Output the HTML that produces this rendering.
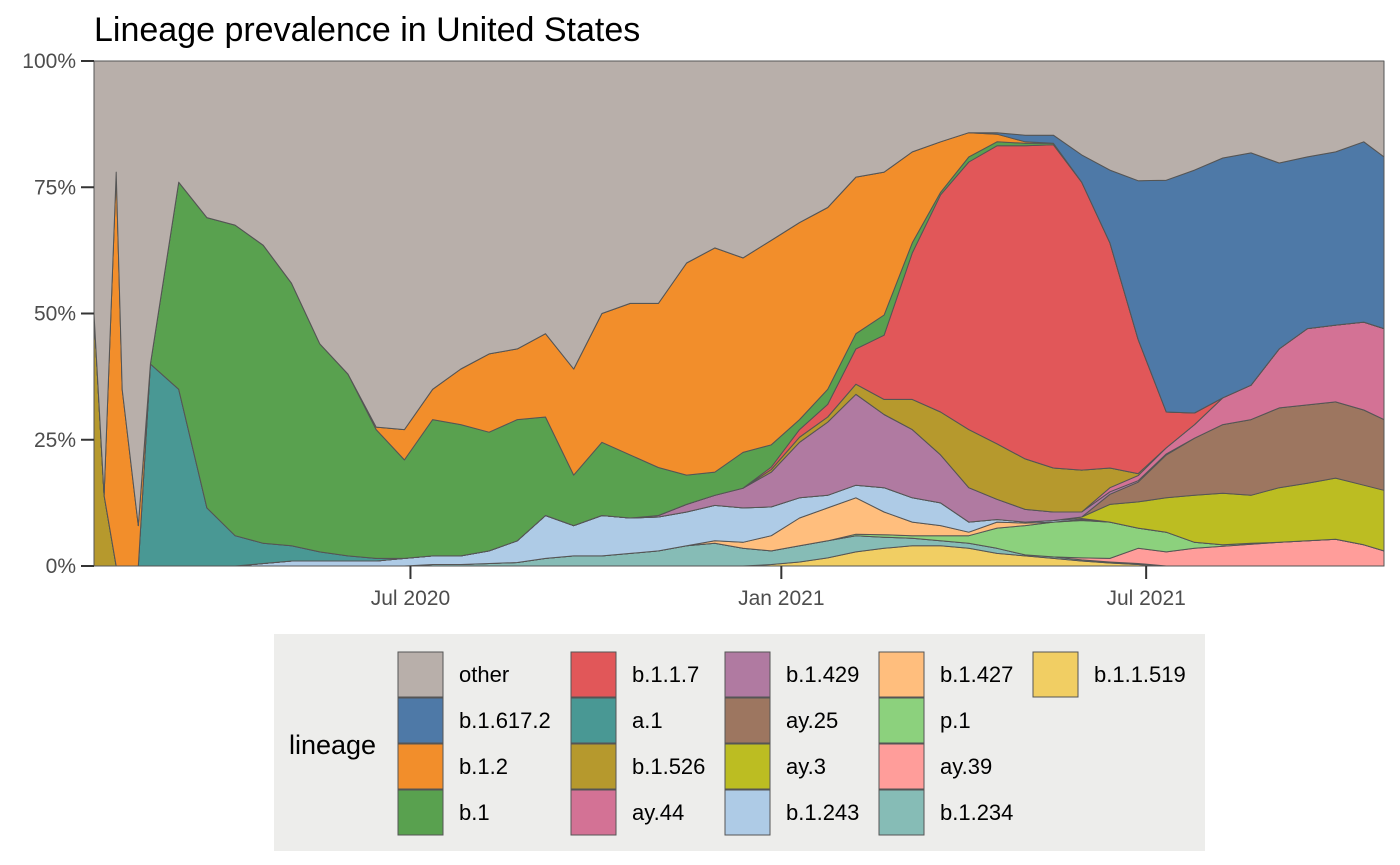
<!DOCTYPE html>
<html><head><meta charset="utf-8"><style>
body{margin:0;background:#fff;font-family:"Liberation Sans",sans-serif}
svg{display:block}
</style></head><body>
<svg id="chart" width="1400" height="865" xmlns="http://www.w3.org/2000/svg">
<text x="94" y="41" font-size="34" fill="#000">Lineage prevalence in United States</text>
<g id="plot"></g>
<g id="axes"></g>
<g id="legend"></g>
</svg>
<script>
// Day offsets from 2020-01-26
const dayOffsets=[0,5,11,14,22,28,42,56,70,84,98,112,126,140,154,168,182,196,210,224,238,252,266,280,294,308,322,336,350,364,378,392,406,420,434,448,462,476,490,504,518,532,546,560,574,588,602,616,630,640];
const lineages=["b.1.1.519","b.1.234","ay.39","p.1","b.1.427","b.1.243","ay.3","ay.25","b.1.429","ay.44","b.1.526","a.1","b.1.1.7","b.1","b.1.2","b.1.617.2","other"];
const s_b11519=[0,0,0,0,0, 0,0,0,0,0,0,0,0,0,0,0,0,0,0,0,0,0,0,0,0,0,0,0.3,0.8,1.6,2.8,3.5,4,4,3.5,2.5,2,1.5,1,0.6,0.3,0,0,0,0,0,0,0,0,0];
const s_b1234=[0,0,0,0,0, 0,0,0,0,0,0,0,0,0,0,0.3,0.3,0.5,0.7,1.5,2,2,2.5,3,4,4.5,3.5,2.7,3.2,3.4,3.2,2.2,1.5,1,1,1,0.2,0.3,0.2,0.2,0.2,0,0,0,0,0,0,0,0,0];
const s_ay39=[0,0,0,0,0, 0,0,0,0,0,0,0,0,0,0,0,0,0,0,0,0,0,0,0,0,0,0,0,0,0,0,0,0,0,0,0,0,0,0.4,0.7,3,2.8,3.5,3.9,4.3,4.7,5,5.3,4.2,3];
const s_p1=[0,0,0,0,0, 0,0,0,0,0,0,0,0,0,0,0,0,0,0,0,0,0,0,0,0,0,0,0,0,0,0.3,0.5,0.5,1,1.5,4,5.8,6.9,7.4,7.2,4,3.9,1.2,0.3,0.2,0,0,0,0,0];
const s_b1427=[0,0,0,0,0, 0,0,0,0,0,0,0,0,0,0,0,0,0,0,0,0,0,0,0,0,0.5,1.2,3,5.5,6.5,7.2,4.5,2.7,2,0.7,1.2,0.5,0,0.2,0,0,0,0,0,0,0,0,0,0,0];
const s_b1243=[0,0,0,0,0, 0,0,0,0,0.5,1,1,1,1,1.5,1.7,1.7,2.5,4.3,8.5,6,8,7,6.7,6.7,7,6.8,5.7,4,2.5,2.5,4.8,4.8,4.5,2,0.5,0.2,0.3,0.2,0,0,0,0,0,0,0,0,0,0,0];
const s_ay3=[0,0,0,0,0, 0,0,0,0,0,0,0,0,0,0,0,0,0,0,0,0,0,0,0,0,0,0,0,0,0,0,0,0,0,0,0,0,0,0.3,3.5,5.2,6.8,9.3,10.2,9.5,10.8,11.4,12.1,11.8,12];
const s_ay25=[0,0,0,0,0, 0,0,0,0,0,0,0,0,0,0,0,0,0,0,0,0,0,0,0,0,0,0,0,0,0,0,0,0,0,0,0,0,0,0,2,3.9,8.5,11.3,13.6,15,15.8,15.5,15.1,14.9,14];
const s_b1429=[0,0,0,0,0, 0,0,0,0,0,0,0,0,0,0,0,0,0,0,0,0,0,0,0.3,1.5,2,3.9,6.9,11,14.5,18,14.5,13.5,9.5,6.8,4,2.5,1.7,1,0.5,0.3,0.2,0,0,0,0,0,0,0,0];
const s_ay44=[0,0,0,0,0, 0,0,0,0,0,0,0,0,0,0,0,0,0,0,0,0,0,0,0,0,0,0,0,0,0,0,0,0,0,0,0,0,0,0,0.8,1,1.2,2.7,5.3,6.8,11.7,15.1,15.2,17.4,18];
const s_b1526=[50,14,0,0,0, 0,0,0,0,0,0,0,0,0,0,0,0,0,0,0,0,0,0,0,0,0,0,0.5,1,1,2,3,6,8.5,11.5,11,10,8.7,8.3,3.9,0.4,0,0,0,0,0,0,0,0,0];
const s_a1=[0,0,0,0,0, 40,35,11.5,6,4,3,1.8,1,0.5,0,0,0,0,0,0,0,0,0,0,0,0,0,0,0,0,0,0,0,0,0,0,0,0,0,0,0,0,0,0,0,0,0,0,0,0];
const s_b117=[0,0,0,0,0, 0,0,0,0,0,0,0,0,0,0,0,0,0,0,0,0,0,0,0,0,0,0,0.5,1.5,2.5,7,12.7,29,43,53,59,62,64,57,44.6,26.6,7.1,2.3,0,0,0,0,0,0,0];
const s_b1=[0,0,0,0,0, 0,41,57.5,61.5,59,52,41.2,36,25.5,19.5,27,26,23.5,24,19.5,10,14.5,12.5,9.5,5.8,4.6,7.1,4.4,2,3,3,4,2,0.5,1,0.8,0.5,0.3,0,0,0,0,0,0,0,0,0,0,0,0];
const s_b12=[0,0,78,35,8, 0,0,0,0,0,0,0,0,0.5,6,6,11,15.5,14,16.5,21,25.5,30,32.5,42,44.4,38.5,40.5,39,36,31,28.3,18,10,4.8,1.5,0.3,0,0,0,0,0,0,0,0,0,0,0,0,0];
const s_b16172=[0,0,0,0,0, 0,0,0,0,0,0,0,0,0,0,0,0,0,0,0,0,0,0,0,0,0,0,0,0,0,0,0,0,0,0,0.3,1.3,1.6,5.4,14.4,31.4,45.9,48.1,47.5,46,36.8,34,34.3,35.7,34];
const yTicks=[0,25,50,75,100];
const yTickLabels=["0%","25%","50%","75%","100%"];
const xTickDays=[157,341,522];
const xTickLabels=["Jul 2020","Jan 2021","Jul 2021"];
const legendOrder=["other","b.1.617.2","b.1.2","b.1","b.1.1.7","a.1","b.1.526","ay.44","b.1.429","ay.25","ay.3","b.1.243","b.1.427","p.1","ay.39","b.1.234","b.1.1.519"];

const colors={"other":"#b8afaa","b.1.617.2":"#4e79a7","b.1.2":"#f28e2b","b.1":"#59a14f","b.1.1.7":"#e15759","a.1":"#499894","b.1.526":"#b6992d","ay.44":"#d37295","b.1.429":"#b07aa1","ay.25":"#9d7660","ay.3":"#bcbd22","b.1.243":"#aecbe6","b.1.427":"#ffbe7d","p.1":"#8cd17d","ay.39":"#ff9d9a","b.1.234":"#86bcb6","b.1.1.519":"#f1ce63"};
const NS="http://www.w3.org/2000/svg";
const X0=94,X1=1384,Y0=566,Y1=61;
function xs(d){return X0+(d-0)/(640-0)*(X1-X0);}
function ys(p){return Y0-(p/100)*(Y0-Y1);}
const series=[s_b11519,s_b1234,s_ay39,s_p1,s_b1427,s_b1243,s_ay3,s_ay25,s_b1429,s_ay44,s_b1526,s_a1,s_b117,s_b1,s_b12,s_b16172];
const n=dayOffsets.length;
const otherVals=dayOffsets.map((_,i)=>100-series.reduce((a,s)=>a+s[i],0));
const all=series.concat([otherVals]);
const plot=document.getElementById('plot');
let base=new Array(n).fill(0);
all.forEach((s,k)=>{
  const top=base.map((b,i)=>b+s[i]);
  let d="M";
  for(let i=0;i<n;i++)d+=(i?" L":"")+xs(dayOffsets[i]).toFixed(1)+","+ys(top[i]).toFixed(1);
  for(let i=n-1;i>=0;i--)d+=" L"+xs(dayOffsets[i]).toFixed(1)+","+ys(base[i]).toFixed(1);
  d+=" Z";
  const p=document.createElementNS(NS,'path');
  p.setAttribute('d',d);p.setAttribute('fill',colors[lineages[k]]);
  p.setAttribute('stroke','#555');p.setAttribute('stroke-width','1');p.setAttribute('stroke-linejoin','round');
  
  
  plot.appendChild(p);
  base=top;
});
const axes=document.getElementById('axes');
yTicks.forEach((t,i)=>{
  const y=ys(t);
  const l=document.createElementNS(NS,'line');
  l.setAttribute('x1',81);l.setAttribute('x2',94);l.setAttribute('y1',y);l.setAttribute('y2',y);
  l.setAttribute('stroke','#333');l.setAttribute('stroke-width','2');
  
  
  axes.appendChild(l);
  const tx=document.createElementNS(NS,'text');
  tx.setAttribute('x',76);tx.setAttribute('y',y+7);tx.setAttribute('text-anchor','end');
  tx.setAttribute('font-size','21');tx.setAttribute('fill','#4d4d4d');tx.textContent=yTickLabels[i];
  
  
  axes.appendChild(tx);
});
xTickDays.forEach((d,i)=>{
  const x=xs(d);
  const l=document.createElementNS(NS,'line');
  l.setAttribute('x1',x);l.setAttribute('x2',x);l.setAttribute('y1',566);l.setAttribute('y2',579);
  l.setAttribute('stroke','#333');l.setAttribute('stroke-width','2');
  
  
  axes.appendChild(l);
  const tx=document.createElementNS(NS,'text');
  tx.setAttribute('x',x);tx.setAttribute('y',605);tx.setAttribute('text-anchor','middle');
  tx.setAttribute('font-size','21');tx.setAttribute('fill','#4d4d4d');tx.textContent=xTickLabels[i];
  
  
  axes.appendChild(tx);
});
const lg=document.getElementById('legend');
const bg=document.createElementNS(NS,'rect');
bg.setAttribute('x',274);bg.setAttribute('y',634);bg.setAttribute('width',931);bg.setAttribute('height',217);bg.setAttribute('fill','#ededeb');


lg.appendChild(bg);
const lt=document.createElementNS(NS,'text');
lt.setAttribute('x',289);lt.setAttribute('y',754);lt.setAttribute('font-size','27');lt.textContent='lineage';


lg.appendChild(lt);
const colX=[398,571,725,879,1033];
legendOrder.forEach((name,i)=>{
  const c=Math.floor(i/4),r=i%4;
  const x=colX[c],y=652+r*46;
  const g=document.createElementNS(NS,'g');
  
  
  const rc=document.createElementNS(NS,'rect');
  rc.setAttribute('x',x);rc.setAttribute('y',y);rc.setAttribute('width',45);rc.setAttribute('height',45);
  rc.setAttribute('fill',colors[name]);rc.setAttribute('stroke','#555');rc.setAttribute('stroke-width','1');
  g.appendChild(rc);
  const t=document.createElementNS(NS,'text');
  t.setAttribute('x',x+61);t.setAttribute('y',y+30);t.setAttribute('font-size','22');t.textContent=name;
  g.appendChild(t);
  lg.appendChild(g);
});
</script>
</body></html>
